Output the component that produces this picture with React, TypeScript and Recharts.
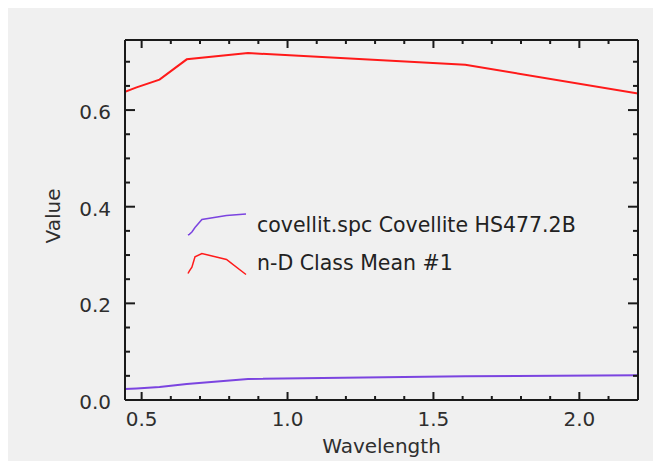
import { LineChart, Line, XAxis, YAxis, Legend } from "recharts";

// Landsat 8 OLI band centres (micrometres)
const wavelengths = [0.443, 0.4826, 0.5613, 0.6546, 0.8646, 1.609, 2.201];
const covellite = [0.023, 0.024, 0.027, 0.033, 0.0436, 0.049, 0.051];
const classMean = [0.638, 0.647, 0.663, 0.705, 0.718, 0.694, 0.634];

const seriesNames = ["covellit.spc Covellite HS477.2B", "n-D Class Mean #1"];
const seriesColors = ["#7b44e0", "#ff1a1a"];

const xTicks = [0.5, 0.6, 0.7, 0.8, 0.9, 1.0, 1.1, 1.2, 1.3, 1.4, 1.5, 1.6, 1.7, 1.8, 1.9, 2.0, 2.1];
const xMajor = [0.5, 1.0, 1.5, 2.0];
const yTicks = [0, 0.05, 0.1, 0.15, 0.2, 0.25, 0.3, 0.35, 0.4, 0.45, 0.5, 0.55, 0.6, 0.65, 0.7];
const yMajor = [0, 0.2, 0.4, 0.6];

const data = wavelengths.map((wl, i) => ({
  wl,
  covellite: covellite[i],
  classMean: classMean[i],
}));

const FONT = "'DejaVu Sans', sans-serif";
const INK = "#1a1a1a";
const TEXT = "#2e2e2e";
const axisLine = { stroke: INK, strokeWidth: 2 };

const XTick = (p: any) => {
  const major = xMajor.includes(p.payload.value);
  const len = major ? 8 : 4;
  const dir = p.side === "top" ? 1 : -1;
  return (
    <g>
      <line x1={p.x} y1={p.y} x2={p.x} y2={p.y + dir * len} stroke={INK} strokeWidth={2} />
      {major && p.side === "bottom" && (
        <text x={p.x} y={p.y + 26} textAnchor="middle" fontFamily={FONT} fontSize={20} fill={TEXT}>
          {p.payload.value.toFixed(1)}
        </text>
      )}
    </g>
  );
};

const YTick = (p: any) => {
  const major = yMajor.includes(p.payload.value);
  const len = major ? 10 : 5;
  const dir = p.side === "right" ? -1 : 1;
  return (
    <g>
      <line x1={p.x} y1={p.y} x2={p.x + dir * len} y2={p.y} stroke={INK} strokeWidth={2} />
      {major && p.side === "left" && (
        <text x={p.x - 14} y={p.y + 9} textAnchor="end" fontFamily={FONT} fontSize={20} fill={TEXT}>
          {p.payload.value.toFixed(1)}
        </text>
      )}
    </g>
  );
};

// legend icons are little thumbnails of each spectrum
const SpectraLegend = () => {
  const w = 58;
  const h = 21;
  const lo = wavelengths[0];
  const hi = wavelengths[wavelengths.length - 1];
  const thumb = (vals: number[]) => {
    const vMin = Math.min(...vals);
    const vMax = Math.max(...vals);
    return wavelengths
      .map((wl, i) => `${(((wl - lo) / (hi - lo)) * w).toFixed(1)},${(h - ((vals[i] - vMin) / (vMax - vMin)) * h).toFixed(1)}`)
      .join(" ");
  };
  const rows = [covellite, classMean];
  return (
    <svg width={420} height={70} style={{ overflow: "visible" }}>
      {rows.map((vals, i) => (
        <g key={seriesNames[i]}>
          <polyline
            transform={`translate(0, ${i * 39.5})`}
            points={thumb(vals)}
            fill="none"
            stroke={seriesColors[i]}
            strokeWidth={1.5}
          />
          <text x={69} y={18 + i * 38} fontFamily={FONT} fontSize={20.5} fill="#222">
            {seriesNames[i]}
          </text>
        </g>
      ))}
    </svg>
  );
};

export default function App() {
  return (
    <div style={{ position: "fixed", left: 8, top: 8, width: 645, height: 453, background: "#f0f0f0" }}>
      <LineChart width={645} height={453} data={data} margin={{ top: 31, right: 14, bottom: 21, left: 57 }}>
        <XAxis
          xAxisId="x"
          dataKey="wl"
          type="number"
          domain={[0.443, 2.201]}
          allowDataOverflow
          ticks={xTicks}
          interval={0}
          height={40}
          tickSize={0}
          tickMargin={0}
          tickLine={false}
          axisLine={axisLine}
          tick={(p: any) => <XTick {...p} side="bottom" />}
          label={({ viewBox }: any) => (
            <text x={viewBox.x + viewBox.width / 2} y={viewBox.y + 53} textAnchor="middle" fontFamily={FONT} fontSize={20} fill={TEXT}>
              Wavelength
            </text>
          )}
        />
        <XAxis
          xAxisId="top"
          orientation="top"
          dataKey="wl"
          type="number"
          domain={[0.443, 2.201]}
          allowDataOverflow
          ticks={xTicks}
          interval={0}
          height={1}
          tickSize={0}
          tickMargin={0}
          tickLine={false}
          axisLine={axisLine}
          tick={(p: any) => <XTick {...p} side="top" />}
        />
        <YAxis
          yAxisId="y"
          type="number"
          domain={[0, 0.745]}
          allowDataOverflow
          ticks={yTicks}
          interval={0}
          width={60}
          tickSize={0}
          tickMargin={0}
          tickLine={false}
          axisLine={axisLine}
          tick={(p: any) => <YTick {...p} side="left" />}
          label={({ viewBox }: any) => {
            const cx = viewBox.x - 12;
            const cy = viewBox.y + viewBox.height / 2 - 4;
            return (
              <text x={cx} y={cy} transform={`rotate(-90 ${cx} ${cy})`} textAnchor="middle" dominantBaseline="central" fontFamily={FONT} fontSize={20} fill={TEXT}>
                Value
              </text>
            );
          }}
        />
        <YAxis
          yAxisId="right"
          orientation="right"
          type="number"
          domain={[0, 0.745]}
          allowDataOverflow
          ticks={yTicks}
          interval={0}
          width={1}
          tickSize={0}
          tickMargin={0}
          tickLine={false}
          axisLine={axisLine}
          tick={(p: any) => <YTick {...p} side="right" />}
        />
        <Legend
          layout="vertical"
          verticalAlign="middle"
          align="center"
          wrapperStyle={{ left: 179.7, top: 206.3, width: 420, height: 70 }}
          content={() => <SpectraLegend />}
        />
        <Line
          xAxisId="x"
          yAxisId="y"
          type="linear"
          dataKey="covellite"
          stroke={seriesColors[0]}
          strokeWidth={2}
          dot={false}
          isAnimationActive={false}
        />
        <Line
          xAxisId="x"
          yAxisId="y"
          type="linear"
          dataKey="classMean"
          stroke={seriesColors[1]}
          strokeWidth={2}
          dot={false}
          isAnimationActive={false}
        />
        <Line
          xAxisId="top"
          yAxisId="right"
          type="linear"
          dataKey="classMean"
          stroke="none"
          dot={false}
          activeDot={false}
          legendType="none"
          isAnimationActive={false}
        />
      </LineChart>
    </div>
  );
}
